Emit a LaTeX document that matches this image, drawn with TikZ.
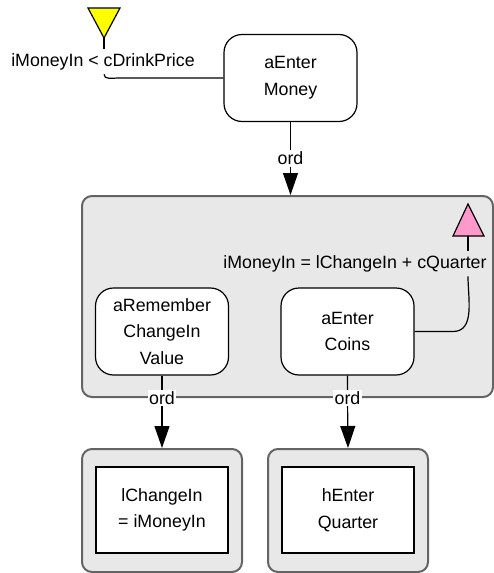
\documentclass[tikz,border=0pt]{standalone}
\usepackage{fontspec}
\setmainfont{Liberation Sans}
\definecolor{boxgray}{RGB}{232, 232, 232}
\definecolor{framegray}{RGB}{100, 100, 100}
\definecolor{trgyellow}{RGB}{255, 255, 0}
\definecolor{trgpink}{RGB}{255, 153, 204}
\usetikzlibrary{arrows.meta, positioning, calc}

\begin{document}
\begin{tikzpicture}[x=0.5pt, y=-0.5pt, line width=0.6pt,
  txt/.style={font=\fontsize{8.9}{13.3}\selectfont, align=center},
  act/.style={txt, draw, fill=white, rounded corners=9pt, minimum width=66.5pt, minimum height=43.5pt},
  grp/.style={draw=framegray, line width=1pt, fill=boxgray, rounded corners=5pt},
  leaf/.style={txt, draw, fill=white, minimum width=66pt, minimum height=43pt},
  cond/.style={txt, anchor=base, inner sep=2pt},
  ordlbl/.style={txt, fill=white, inner sep=0.8pt},
  flow/.style={-{Triangle[length=11pt, width=7.5pt]}}]
  \useasboundingbox (0, 0) rectangle (493, 573);

  % Top activity and its guard
  \node[act] (money) at (290.5, 78) {aEnter\\Money};
  \draw[fill=trgyellow] (88, 8) -- (120, 8) -- (104, 38) -- cycle;
  \coordinate (trg1) at (104, 38);
  \node[cond] (cond1) at (103, 66) {iMoneyIn < cDrinkPrice};
  \draw (money.west) -- (118, 78) to[out=180, in=-90] (trg1 |- cond1.south);
  \draw (cond1.north -| trg1) -- (trg1);

  % Group box
  \node[grp, minimum width=205.5pt, minimum height=100.5pt] (sys) at (287.5, 296.5) {};
  \draw[flow] (money.south) -- node[txt, fill=white, inner sep=1pt] (ord1) {ord} (money.south |- sys.north);

  \node[act] (remember) at (162, 331.5) {aRemember\\ChangeIn\\Value};
  \node[act] (coins) at (347.5, 331.5) {aEnter\\Coins};

  % Postcondition
  \draw[fill=trgpink] (453, 236) -- (484, 236) -- (468, 204) -- cycle;
  \coordinate (trg2) at (468, 236);
  \node[cond] (cond2) at (355, 268) {iMoneyIn = lChangeIn + cQuarter};
  \draw (coins.east) -- (453, 331.5) to[out=0, in=-90] (trg2 |- cond2.south);
  \draw (cond2.north -| trg2) -- (trg2);

  % Bottom boxes
  \node[grp, minimum width=80pt, minimum height=61.5pt] (lbox) at (162, 510.5) {};
  \node[leaf] (linner) at (162, 510) {lChangeIn\\ = iMoneyIn};
  \node[grp, minimum width=80pt, minimum height=61.5pt] (hbox) at (348, 510.5) {};
  \node[leaf] (hinner) at (348, 510) {hEnter\\Quarter};

  \draw[flow] (remember.south) -- (remember.south |- sys.south) node[ordlbl] (ord2) {ord} -- (lbox.north);
  \draw[flow] (coins.south) -- (coins.south |- sys.south) node[ordlbl] (ord3) {ord} -- (hbox.north);
\end{tikzpicture}
\end{document}
